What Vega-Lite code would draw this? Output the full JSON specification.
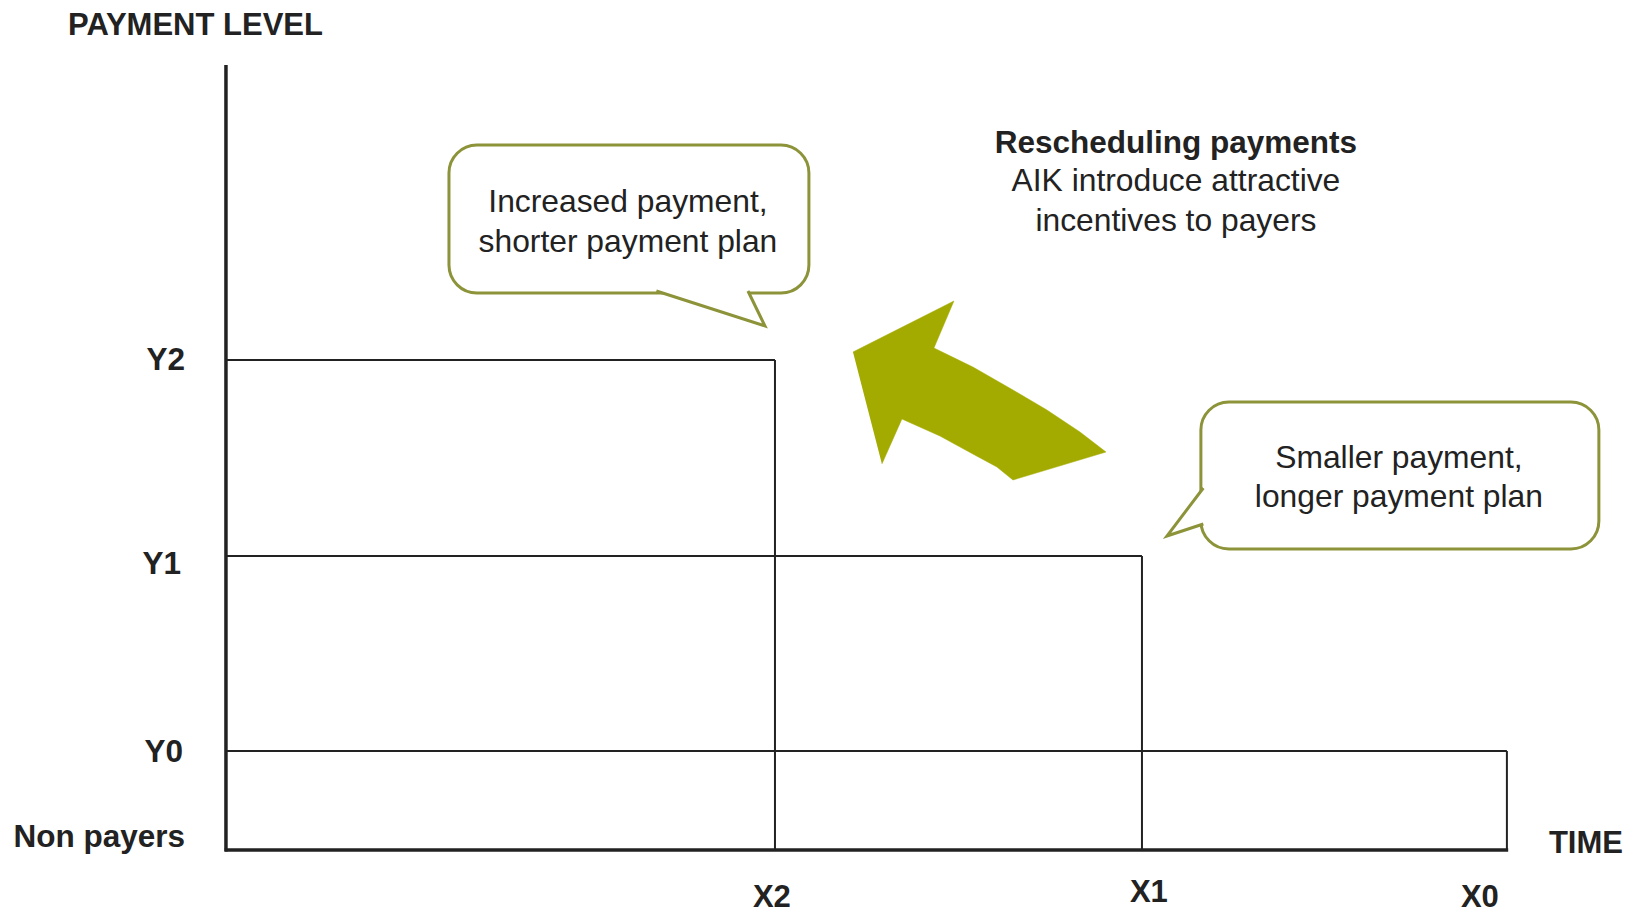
{
  "$schema": "https://vega.github.io/schema/vega-lite/v6.json",
  "width": 1635,
  "height": 914,
  "autosize": {"type": "none"},
  "padding": 0,
  "background": "white",
  "config": {"view": {"stroke": null}},
  "datasets": {
    "steps": [
      {"x": 0, "x2": 42.86, "y": 100, "y2": 100},
      {"x": 0, "x2": 71.51, "y": 60, "y2": 60},
      {"x": 0, "x2": 100, "y": 20.2, "y2": 20.2},
      {"x": 42.86, "x2": 42.86, "y": 0, "y2": 100},
      {"x": 71.51, "x2": 71.51, "y": 0, "y2": 60},
      {"x": 100, "x2": 100, "y": 0, "y2": 20.2}
    ],
    "axes": [
      {"x": 0, "x2": 0, "y": -0.3, "y2": 160.2},
      {"x": -0.1, "x2": 100.1, "y": 0, "y2": 0}
    ],
    "boxes": [
      {"id": "b1", "x": 17.41, "x2": 45.51, "y": 143.88, "y2": 113.67},
      {"id": "b2", "x": 76.11, "x2": 107.18, "y": 91.43, "y2": 61.43}
    ],
    "tails": [
      {"id": "t1", "o": 1, "x": 33.6, "y": 114.08},
      {"id": "t1", "o": 2, "x": 42.08, "y": 106.94},
      {"id": "t1", "o": 3, "x": 40.75, "y": 114.08},
      {"id": "t2", "o": 1, "x": 76.3, "y": 73.88},
      {"id": "t2", "o": 2, "x": 73.46, "y": 64.08},
      {"id": "t2", "o": 3, "x": 76.3, "y": 66.53}
    ],
    "arrow": [
      {"id": "a", "o": 1, "x": 48.95, "y": 101.63},
      {"id": "a", "o": 2, "x": 56.83, "y": 112.04},
      {"id": "a", "o": 3, "x": 55.27, "y": 102.45},
      {"id": "a", "o": 4, "x": 58.31, "y": 98.57},
      {"id": "a", "o": 5, "x": 61.44, "y": 93.88},
      {"id": "a", "o": 6, "x": 64.09, "y": 89.80},
      {"id": "a", "o": 7, "x": 66.67, "y": 85.31},
      {"id": "a", "o": 8, "x": 68.70, "y": 81.22},
      {"id": "a", "o": 9, "x": 61.44, "y": 75.51},
      {"id": "a", "o": 10, "x": 60.19, "y": 78.16},
      {"id": "a", "o": 11, "x": 58.31, "y": 80.82},
      {"id": "a", "o": 12, "x": 55.74, "y": 84.49},
      {"id": "a", "o": 13, "x": 52.77, "y": 87.96},
      {"id": "a", "o": 14, "x": 51.21, "y": 78.78}
    ],
    "labels": [
      {"kind": "boldLeft", "x": -12.33, "y": 166.33, "text": "PAYMENT LEVEL"},
      {"kind": "boldRight", "x": -3.2, "y": 98.0, "text": "Y2"},
      {"kind": "boldRight", "x": -3.5, "y": 56.3, "text": "Y1"},
      {"kind": "boldRight", "x": -3.35, "y": 18.0, "text": "Y0"},
      {"kind": "boldRight", "x": -3.2, "y": 0.61, "text": "Non payers"},
      {"kind": "boldLeft", "x": 103.28, "y": -0.61, "text": "TIME"},
      {"kind": "boldLeft", "x": 41.14, "y": -11.6, "text": "X2"},
      {"kind": "boldLeft", "x": 70.57, "y": -10.55, "text": "X1"},
      {"kind": "boldLeft", "x": 96.41, "y": -11.6, "text": "X0"},
      {"kind": "boldCenter", "x": 74.16, "y": 142.24, "text": "Rescheduling payments"},
      {"kind": "center", "x": 74.16, "y": 134.49, "text": "AIK introduce attractive"},
      {"kind": "center", "x": 74.16, "y": 126.33, "text": "incentives to payers"},
      {"kind": "center", "x": 31.38, "y": 130.2, "text": "Increased payment,"},
      {"kind": "center", "x": 31.38, "y": 122.04, "text": "shorter payment plan"},
      {"kind": "center", "x": 91.57, "y": 77.96, "text": "Smaller payment,"},
      {"kind": "center", "x": 91.57, "y": 70.0, "text": "longer payment plan"}
    ]
  },
  "layer": [
    {
      "data": {"name": "steps"},
      "mark": {"type": "rule", "color": "#222222", "strokeWidth": 2},
      "encoding": {
        "x": {"field": "x", "type": "quantitative", "scale": {"domain": [-17.64, 110.0], "nice": false, "zero": false}, "axis": null},
        "x2": {"field": "x2"},
        "y": {"field": "y", "type": "quantitative", "scale": {"domain": [-13.06, 173.47], "nice": false, "zero": false}, "axis": null},
        "y2": {"field": "y2"}
      }
    },
    {
      "data": {"name": "axes"},
      "mark": {"type": "rule", "color": "#222222", "strokeWidth": 3.5},
      "encoding": {
        "x": {"field": "x", "type": "quantitative", "scale": {"domain": [-17.64, 110.0], "nice": false, "zero": false}, "axis": null},
        "x2": {"field": "x2"},
        "y": {"field": "y", "type": "quantitative", "scale": {"domain": [-13.06, 173.47], "nice": false, "zero": false}, "axis": null},
        "y2": {"field": "y2"}
      }
    },
    {
      "data": {"name": "arrow"},
      "mark": {"type": "line", "fill": "#A3AA00", "stroke": "#A3AA00", "strokeWidth": 0.5, "interpolate": "linear"},
      "encoding": {
        "x": {"field": "x", "type": "quantitative", "scale": {"domain": [-17.64, 110.0], "nice": false, "zero": false}, "axis": null},
        "y": {"field": "y", "type": "quantitative", "scale": {"domain": [-13.06, 173.47], "nice": false, "zero": false}, "axis": null},
        "order": {"field": "o", "type": "quantitative"},
        "detail": {"field": "id", "type": "nominal"}
      }
    },
    {
      "data": {"name": "boxes"},
      "mark": {"type": "rect", "fill": "white", "stroke": "#8C9339", "strokeWidth": 3, "cornerRadius": 28},
      "encoding": {
        "x": {"field": "x", "type": "quantitative", "scale": {"domain": [-17.64, 110.0], "nice": false, "zero": false}, "axis": null},
        "x2": {"field": "x2"},
        "y": {"field": "y", "type": "quantitative", "scale": {"domain": [-13.06, 173.47], "nice": false, "zero": false}, "axis": null},
        "y2": {"field": "y2"}
      }
    },
    {
      "data": {"name": "tails"},
      "mark": {"type": "line", "fill": "white", "stroke": "#8C9339", "strokeWidth": 3, "strokeJoin": "miter", "interpolate": "linear"},
      "encoding": {
        "x": {"field": "x", "type": "quantitative", "scale": {"domain": [-17.64, 110.0], "nice": false, "zero": false}, "axis": null},
        "y": {"field": "y", "type": "quantitative", "scale": {"domain": [-13.06, 173.47], "nice": false, "zero": false}, "axis": null},
        "order": {"field": "o", "type": "quantitative"},
        "detail": {"field": "id", "type": "nominal"}
      }
    },
    {
      "data": {"name": "labels"},
      "transform": [{"filter": "datum.kind === 'boldLeft'"}],
      "mark": {"type": "text", "align": "left", "baseline": "alphabetic", "font": "Liberation Sans, Arial, sans-serif", "fontWeight": "bold", "fontSize": 31, "color": "#222222"},
      "encoding": {
        "x": {"field": "x", "type": "quantitative", "scale": {"domain": [-17.64, 110.0], "nice": false, "zero": false}, "axis": null},
        "y": {"field": "y", "type": "quantitative", "scale": {"domain": [-13.06, 173.47], "nice": false, "zero": false}, "axis": null},
        "text": {"field": "text"}
      }
    },
    {
      "data": {"name": "labels"},
      "transform": [{"filter": "datum.kind === 'boldRight'"}],
      "mark": {"type": "text", "align": "right", "baseline": "alphabetic", "font": "Liberation Sans, Arial, sans-serif", "fontWeight": "bold", "fontSize": 31.5, "color": "#222222"},
      "encoding": {
        "x": {"field": "x", "type": "quantitative", "scale": {"domain": [-17.64, 110.0], "nice": false, "zero": false}, "axis": null},
        "y": {"field": "y", "type": "quantitative", "scale": {"domain": [-13.06, 173.47], "nice": false, "zero": false}, "axis": null},
        "text": {"field": "text"}
      }
    },
    {
      "data": {"name": "labels"},
      "transform": [{"filter": "datum.kind === 'boldCenter'"}],
      "mark": {"type": "text", "align": "center", "baseline": "alphabetic", "font": "Liberation Sans, Arial, sans-serif", "fontWeight": "bold", "fontSize": 31.5, "color": "#222222"},
      "encoding": {
        "x": {"field": "x", "type": "quantitative", "scale": {"domain": [-17.64, 110.0], "nice": false, "zero": false}, "axis": null},
        "y": {"field": "y", "type": "quantitative", "scale": {"domain": [-13.06, 173.47], "nice": false, "zero": false}, "axis": null},
        "text": {"field": "text"}
      }
    },
    {
      "data": {"name": "labels"},
      "transform": [{"filter": "datum.kind === 'center'"}],
      "mark": {"type": "text", "align": "center", "baseline": "alphabetic", "font": "Liberation Sans, Arial, sans-serif", "fontSize": 31.8, "color": "#222222"},
      "encoding": {
        "x": {"field": "x", "type": "quantitative", "scale": {"domain": [-17.64, 110.0], "nice": false, "zero": false}, "axis": null},
        "y": {"field": "y", "type": "quantitative", "scale": {"domain": [-13.06, 173.47], "nice": false, "zero": false}, "axis": null},
        "text": {"field": "text"}
      }
    }
  ]
}
